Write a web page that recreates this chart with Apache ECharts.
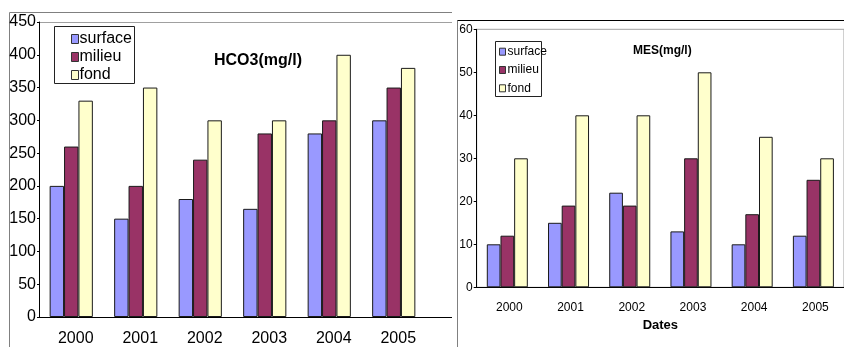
<!DOCTYPE html>
<html>
<head>
<meta charset="utf-8">
<script src="https://cdn.jsdelivr.net/npm/echarts@6/dist/echarts.min.js"></script>
<style>
  html, body { margin: 0; padding: 0; background: #fff; }
  #wrap { position: relative; width: 844px; height: 347px; overflow: hidden; background: #fff; }
  #left { position: absolute; left: 0; top: 0; width: 452px; height: 347px; }
  #right { position: absolute; left: 452px; top: 0; width: 392px; height: 347px; background: #fff; }
</style>
</head>
<body>
<div id="wrap"><div id="left"></div><div id="right"></div></div>
<script>
// Sampling years and depth levels
const years = ['2000', '2001', '2002', '2003', '2004', '2005'];
const levels = ['surface', 'milieu', 'fond'];

// Bicarbonate HCO3 (mg/l)
const hco3Surface = [200, 150, 180, 165, 280, 300];
const hco3Milieu  = [260, 200, 240, 280, 300, 350];
const hco3Fond    = [330, 350, 300, 300, 400, 380];

// Suspended matter MES (mg/l)
const mesSurface = [10, 15, 22, 13, 10, 12];
const mesMilieu  = [12, 19, 19, 30, 17, 25];
const mesFond    = [30, 40, 40, 50, 35, 30];

const levelColors = ['#9999FF', '#993366', '#FFFFCC'];
const FONT = "'Liberation Sans', Arial, sans-serif";

function barSeries(valueLists) {
  return levels.map((name, i) => ({
    name: name,
    type: 'bar',
    data: valueLists[i],
    barGap: '0%',
    barCategoryGap: '33%',
    itemStyle: { color: levelColors[i], borderColor: '#1a1a1a', borderWidth: 1 },
    emphasis: { disabled: true }
  }));
}

// ---- HCO3 chart ----
const leftChart = echarts.init(document.getElementById('left'));
leftChart.setOption({
  animation: false,
  color: levelColors,
  title: {
    text: 'HCO3(mg/l)', left: 214, top: 53, padding: 0,
    textStyle: { fontFamily: FONT, fontSize: 16, fontWeight: 'bold', color: '#000', lineHeight: 16 }
  },
  legend: {
    data: levels, orient: 'vertical', left: 71, top: 31, padding: 0,
    itemWidth: 7, itemHeight: 9, itemGap: 2, icon: 'rect',
    itemStyle: { borderColor: '#333', borderWidth: 1 },
    textStyle: { fontFamily: FONT, fontSize: 16, color: '#000', lineHeight: 16, padding: [0, 0, 0, -4] },
    selectedMode: false
  },
  grid: { left: 39, top: 22, width: 387, height: 297.3, containLabel: false },
  xAxis: {
    type: 'category', data: years,
    axisLine: { lineStyle: { color: '#000', width: 1 } },
    axisTick: { length: 4, lineStyle: { color: '#000' } },
    axisLabel: { fontFamily: FONT, fontSize: 16, color: '#000', margin: 14, lineHeight: 16, padding: [0, 0, 0, 9] }
  },
  yAxis: {
    type: 'value', min: 0, max: 450, interval: 50,
    splitLine: { show: false },
    axisLine: { show: true, lineStyle: { color: '#000', width: 1 } },
    axisTick: { show: true, length: 2, lineStyle: { color: '#000' } },
    axisLabel: { fontFamily: FONT, fontSize: 16, color: '#000', margin: 3 }
  },
  series: barSeries([hco3Surface, hco3Milieu, hco3Fond])
});

// Frame, plot-area top edge, axis run-out and legend box, placed from the axis scale
const yZero = Math.round(leftChart.convertToPixel({ yAxisIndex: 0 }, 0)) + 0.5;
const yTop = Math.round(leftChart.convertToPixel({ yAxisIndex: 0 }, 450)) + 0.5;
const xEnd = leftChart.getModel().getComponent('grid').coordinateSystem.getRect();
const xRight = xEnd.x + xEnd.width;
leftChart.setOption({
  graphic: [
    { type: 'rect', shape: { x: 9.5, y: 12.5, width: 600, height: 400 }, style: { fill: 'none', stroke: '#808080', lineWidth: 1 }, silent: true },
    { type: 'line', shape: { x1: 39, y1: yTop, x2: 452, y2: yTop }, style: { stroke: '#a0a0a0', lineWidth: 1 }, silent: true },
    { type: 'line', shape: { x1: xRight, y1: yZero, x2: 452, y2: yZero }, style: { stroke: '#000', lineWidth: 1 }, silent: true },
    { type: 'rect', shape: { x: 54.5, y: 26.5, width: 80, height: 57 }, style: { fill: 'none', stroke: '#222', lineWidth: 1 }, silent: true }
  ]
});

// ---- MES chart ----
const rightChart = echarts.init(document.getElementById('right'));
rightChart.setOption({
  animation: false,
  color: levelColors,
  title: {
    text: 'MES(mg/l)', left: 181, top: 45, padding: 0,
    textStyle: { fontFamily: FONT, fontSize: 12, fontWeight: 'bold', color: '#000', lineHeight: 12 }
  },
  legend: {
    data: levels, orient: 'vertical', left: 47, top: 45.7, padding: 0,
    itemWidth: 6, itemHeight: 7, itemGap: 6.3, icon: 'rect',
    itemStyle: { borderColor: '#333', borderWidth: 1 },
    textStyle: { fontFamily: FONT, fontSize: 12, color: '#000', lineHeight: 12, padding: [0, 0, 0, -3] },
    selectedMode: false
  },
  grid: {
    left: 24.7, top: 29.3, width: 378, height: 258, containLabel: false,
    show: true, borderColor: '#a0a0a0', borderWidth: 1, backgroundColor: 'transparent'
  },
  xAxis: {
    type: 'category', data: years,
    name: 'Dates', nameLocation: 'middle', nameGap: 32,
    nameTextStyle: { fontFamily: FONT, fontSize: 13, fontWeight: 'bold', color: '#000', lineHeight: 13 },
    axisLine: { lineStyle: { color: '#000', width: 1 } },
    axisTick: { length: 3, lineStyle: { color: '#000' } },
    axisLabel: { fontFamily: FONT, fontSize: 12, color: '#000', margin: 14, lineHeight: 12, padding: [0, 0, 0, 4] }
  },
  yAxis: {
    type: 'value', min: 0, max: 60, interval: 10,
    splitLine: { show: false },
    axisLine: { show: true, lineStyle: { color: '#000', width: 1 } },
    axisTick: { show: true, length: 3, lineStyle: { color: '#000' } },
    axisLabel: { fontFamily: FONT, fontSize: 12, color: '#000', margin: 4 }
  },
  graphic: [
    { type: 'line', shape: { x1: 5.5, y1: 20.5, x2: 5.5, y2: 347 }, style: { stroke: '#808080', lineWidth: 1 }, silent: true },
    { type: 'line', shape: { x1: 5.5, y1: 20.5, x2: 392, y2: 20.5 }, style: { stroke: '#000', lineWidth: 1 }, silent: true },
    { type: 'rect', shape: { x: 43.5, y: 41.5, width: 46, height: 55 }, style: { fill: 'none', stroke: '#222', lineWidth: 1 }, silent: true }
  ],
  series: barSeries([mesSurface, mesMilieu, mesFond])
});
</script>
</body>
</html>
